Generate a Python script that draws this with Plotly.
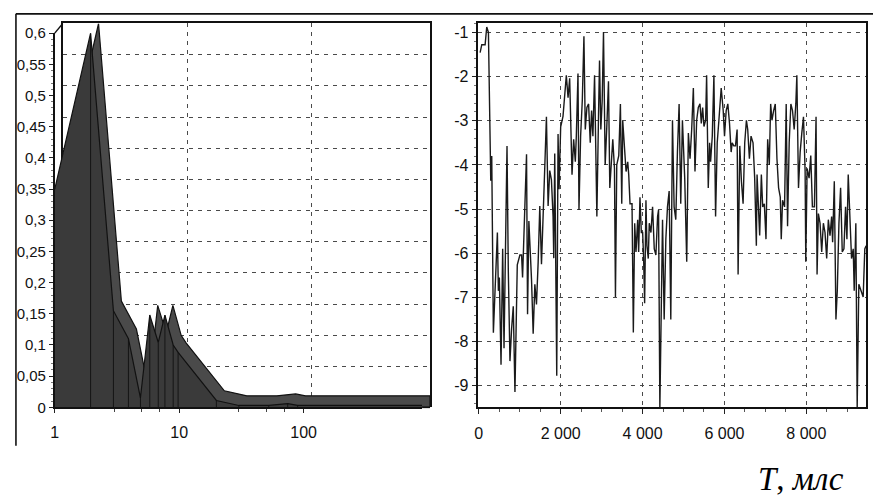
import plotly.graph_objects as go

# ---------------- data: left panel (spectrum, log x) ----------------
spec_x = [1.0, 1.94, 2.96, 3.91, 4.88, 5.8, 6.79, 7.68, 8.95, 9.8, 19.9, 30.2, 52.5, 74.5, 89.5, 895]
spec_y = [0.35, 0.60, 0.155, 0.11, 0.015, 0.148, 0.104, 0.148, 0.10, 0.088, 0.011, 0.003, 0.003, 0.006, 0.003, 0.003]

left_y_ticks = [0, 0.05, 0.1, 0.15, 0.2, 0.25, 0.3, 0.35, 0.4, 0.45, 0.5, 0.55, 0.6]
left_y_labels = ["0", "0,05", "0,1", "0,15", "0,2", "0,25", "0,3", "0,35", "0,4", "0,45", "0,5", "0,55", "0,6"]
left_x_ticks = [1, 10, 100]
left_x_labels = ["1", "10", "100"]
left_x_minor = [3, 5, 7, 30, 50, 70]

# ---------------- data: right panel (time series) ----------------
ts_t = [32, 73, 154, 194, 235, 275, 292, 316, 356, 397, 454, 478, 502, 543, 583, 616, 656, 689, 721, 761,
        802, 842, 883, 940, 1004, 1045, 1069, 1166, 1191, 1223, 1288, 1328, 1369, 1409, 1450, 1490, 1531,
        1571, 1612, 1652, 1693, 1733, 1774, 1814, 1831, 1855, 1879, 1904, 1936, 1960, 2000, 2057, 2138,
        2180, 2220, 2236, 2277, 2317, 2358, 2382, 2423, 2447, 2487, 2528, 2568, 2601, 2641, 2682, 2722,
        2755, 2787, 2828, 2884, 2925, 2949, 2981, 3014, 3046, 3087, 3127, 3168, 3200, 3233, 3273, 3314,
        3338, 3370, 3419, 3459, 3492, 3516, 3557, 3597, 3638, 3662, 3694, 3743, 3775, 3808, 3840, 3881,
        3905, 3937, 3970, 4002, 4026, 4051, 4083, 4107, 4140, 4164, 4205, 4245, 4286, 4326, 4367, 4391,
        4423, 4488, 4528, 4569, 4609, 4650, 4690, 4731, 4771, 4812, 4852, 4893, 4933, 4974, 5030, 5079,
        5119, 5160, 5200, 5241, 5281, 5322, 5362, 5403, 5435, 5468, 5500, 5541, 5565, 5605, 5638, 5662,
        5703, 5743, 5784, 5824, 5865, 5921, 5970, 6002, 6043, 6083, 6124, 6164, 6189, 6229, 6270, 6310,
        6334, 6375, 6415, 6456, 6496, 6537, 6569, 6610, 6650, 6699, 6739, 6780, 6797, 6837, 6861, 6902,
        6934, 6975, 7015, 7056, 7096, 7129, 7161, 7202, 7242, 7283, 7323, 7364, 7388, 7420, 7469, 7509,
        7542, 7582, 7623, 7663, 7704, 7744, 7769, 7809, 7850, 7890, 7931, 7971, 7987, 8020, 8068, 8109,
        8149, 8198, 8238, 8263, 8295, 8336, 8376, 8417, 8457, 8498, 8538, 8579, 8619, 8643, 8684, 8724,
        8757, 8797, 8838, 8878, 8919, 8959, 8992, 9024, 9065, 9105, 9146, 9170, 9210, 9243, 9283, 9332,
        9389, 9429, 9461]
ts_v = [-1.46, -1.28, -1.28, -0.88, -1.0, -3.64, -4.36, -3.8, -7.8, -6.85, -5.53, -6.85, -6.55, -8.52, -5.9,
        -8.15, -5.82, -3.57, -6.41, -8.44, -7.7, -7.2, -9.14, -6.26, -6.04, -6.04, -6.55, -3.76, -7.38,
        -5.27, -6.6, -7.82, -6.7, -7.16, -6.2, -4.93, -6.25, -4.86, -4.04, -2.91, -4.93, -4.13, -4.34,
        -5.17, -6.11, -3.74, -6.2, -8.77, -3.3, -4.55, -3.14, -2.9, -1.97,
        -2.48, -2.04, -2.91, -4.22, -3.42, -3.93, -3.35, -1.93, -5.02, -3.35, -2.55, -1.09, -3.2, -2.7,
        -2.62, -3.5, -2.77, -3.35, -1.97, -5.17, -2.84, -1.64, -3.2, -2.55, -0.99, -4.0, -3.13, -2.11,
        -4.52, -3.86, -3.42, -4.08, -6.99, -4.0, -3.79, -2.62, -4.88, -3.0, -3.5, -4.15, -3.93, -4.22,
        -4.88, -4.88, -7.79, -5.32, -5.97, -5.24, -5.97, -4.73, -5.53, -5.53, -6.12, -7.13, -4.8, -5.83,
        -6.12, -5.32, -5.53, -4.95, -5.9, -6.04, -5.17, -5.02, -9.5, -5.24,
        -7.5, -5.68, -4.95, -4.59, -7.5, -2.99, -4.95, -5.24, -3.71, -2.62, -4.88, -2.99, -4.3, -6.19,
        -3.28, -3.86, -3.2, -2.26, -4.15, -2.99, -2.7, -2.62, -3.06, -2.7, -3.13, -2.99, -1.97, -4.52,
        -3.5, -3.93, -3.35, -1.97, -5.17, -3.5, -2.99, -2.26, -2.77, -3.35, -2.77, -2.62, -3.06, -3.71,
        -3.5, -3.57, -3.57, -3.2, -6.48, -3.57, -4.37, -4.88, -3.5, -2.99, -3.2, -3.86, -3.35, -3.5,
        -4.3, -5.83,
        -4.22, -4.95, -5.6, -4.22, -4.95, -4.88, -5.68, -3.42, -4.0, -2.62, -2.99, -2.77, -2.62, -3.86,
        -4.52, -4.73, -5.68, -4.8, -4.95, -2.62, -5.39, -3.5, -2.62, -2.77, -3.2, -2.62, -1.97, -4.52,
        -3.71, -3.28, -2.91, -4.15, -6.19, -4.08, -4.3, -3.79, -4.95, -4.95, -2.91, -6.48, -5.1, -5.32,
        -5.97, -5.32, -5.53, -6.12, -5.24, -5.6, -5.17, -5.75, -4.37, -7.5, -6.85, -5.32, -4.52, -5.97,
        -5.9, -4.95, -5.68, -4.22, -5.32, -6.12, -5.9, -6.85, -5.32, -9.5, -6.7, -6.85, -6.99, -5.9,
        -5.83]

right_x_ticks = [0, 2000, 4000, 6000, 8000]
right_x_labels = ["0", "2 000", "4 000", "6 000", "8 000"]
right_y_ticks = [-1, -2, -3, -4, -5, -6, -7, -8, -9]
right_y_labels = ["-1", "-2", "-3", "-4", "-5", "-6", "-7", "-8", "-9"]

axis_title = "<i>T</i>, <i>млс</i>"

# ---------------- layout geometry (pixels of the 873x502 page) ----------------
W, H = 873, 502
def px(x):
    return x / W
def py(y):
    return 1 - y / H

FRONT_L, FRONT_R, FRONT_T, FRONT_B = 51, 420, 25, 412.3
DX, DY = 8, 10  # depth of the 3-D box
BACK_L, BACK_R, BACK_T = FRONT_L + DX, FRONT_R + DX, FRONT_T - DY
R_L, R_R, R_T, R_B = 476, 866, 15, 412

Y_TOP = 0.6
PX_PER_UNIT = (FRONT_B - FRONT_T) / Y_TOP
BACK_YMIN = -DY / PX_PER_UNIT          # back wall axis reaches down to the front floor

TICKFONT = dict(family="Liberation Sans Narrow, Liberation Sans, Arial", size=16, color="#111")
GRID = dict(gridcolor="#4a4a4a", gridwidth=1.1, griddash="4px,5px")

fig = go.Figure()

# back wall of the 3-D area (same values, drawn on the shifted back axes), closed down to the floor
back_x = spec_x + [spec_x[-1], spec_x[0]]
back_y = spec_y + [BACK_YMIN, BACK_YMIN]
fig.add_trace(go.Scatter(x=back_x, y=back_y, xaxis="x", yaxis="y", mode="lines",
                         fill="toself", fillcolor="#4a4a4a",
                         line=dict(color="#111", width=1.2), hoverinfo="skip", showlegend=False))
# front face
fig.add_trace(go.Scatter(x=spec_x, y=spec_y, xaxis="x2", yaxis="y2", mode="lines",
                         fill="tozeroy", fillcolor="#3a3a3a",
                         line=dict(color="#111", width=1.2), showlegend=False))
# drop lines of the front face segments
drop_x, drop_y = [], []
for xv, yv in zip(spec_x[1:-1], spec_y[1:-1]):
    drop_x += [xv, xv, None]
    drop_y += [0, yv, None]
fig.add_trace(go.Scatter(x=drop_x, y=drop_y, xaxis="x2", yaxis="y2", mode="lines",
                         line=dict(color="#111", width=0.9), hoverinfo="skip", showlegend=False))

# right panel series
fig.add_trace(go.Scatter(x=ts_t, y=ts_v, xaxis="x3", yaxis="y3", mode="lines",
                         line=dict(color="#1a1a1a", width=1.4), showlegend=False))

log_span = (FRONT_R - FRONT_L) / 125.0

fig.update_layout(
    width=W, height=H, autosize=False,
    margin=dict(l=0, r=0, t=0, b=0),
    paper_bgcolor="white", plot_bgcolor="rgba(0,0,0,0)",
    showlegend=False,
    # back wall axes (grid + box)
    xaxis=dict(type="log", domain=[px(BACK_L), px(BACK_R)], range=[0, log_span], side="top",
               tickvals=left_x_ticks[1:], showticklabels=False, ticks="",
               showgrid=True, **GRID, zeroline=False,
               showline=True, mirror=False, linecolor="#111", linewidth=1.6),
    yaxis=dict(domain=[py(FRONT_B), py(BACK_T)], range=[BACK_YMIN, Y_TOP], anchor="x",
               tickvals=left_y_ticks[1:-1], showticklabels=False, ticks="",
               showgrid=True, **GRID, zeroline=False,
               showline=True, mirror=True, linecolor="#111", linewidth=1.6),
    # front face axes (ticks + labels)
    xaxis2=dict(type="log", domain=[px(FRONT_L), px(FRONT_R)], range=[0, log_span], anchor="y2",
                tickvals=left_x_ticks, ticktext=left_x_labels, ticks="outside", ticklen=4,
                tickcolor="#222", tickfont=TICKFONT, ticklabelstandoff=6,
                minor=dict(tickmode="array", tickvals=left_x_minor, ticks="outside", ticklen=3,
                           tickcolor="#444", showgrid=False),
                showgrid=False, zeroline=False,
                showline=True, linecolor="#111", linewidth=1.8),
    yaxis2=dict(domain=[py(FRONT_B), py(FRONT_T)], range=[0, Y_TOP], anchor="x2",
                tickvals=left_y_ticks, ticktext=left_y_labels, ticks="outside", ticklen=4,
                tickcolor="#222", tickfont=dict(TICKFONT, size=15), ticklabelstandoff=0,
                minor=dict(dtick=0.01, ticks="outside", ticklen=2, tickcolor="#777", showgrid=False),
                showgrid=False, zeroline=False,
                showline=True, linecolor="#111", linewidth=1.8),
    # right panel
    xaxis3=dict(domain=[px(R_L), px(R_R)], range=[-24, 9459], anchor="y3",
                tickvals=right_x_ticks, ticktext=right_x_labels, ticks="outside", ticklen=5,
                tickcolor="#222", tickfont=TICKFONT, ticklabelstandoff=6,
                minor=dict(dtick=500, ticks="outside", ticklen=3, tickcolor="#555", showgrid=False),
                showgrid=True, **GRID, zeroline=False,
                showline=True, mirror=True, linecolor="#111", linewidth=2.4),
    yaxis3=dict(domain=[py(R_B), py(R_T)], range=[-9.48, -0.80], anchor="x3",
                tickvals=right_y_ticks, ticktext=right_y_labels, ticks="outside", ticklen=4,
                tickcolor="#222", tickfont=TICKFONT, ticklabelstandoff=0,
                minor=dict(dtick=0.2, ticks="outside", ticklen=2, tickcolor="#777", showgrid=False),
                showgrid=True, **GRID, zeroline=False,
                showline=True, mirror=True, linecolor="#111", linewidth=2.4),
    annotations=[dict(text=axis_title, xref="paper", yref="paper", x=px(801), y=py(486),
                      xanchor="center", yanchor="middle", showarrow=False,
                      font=dict(family="Liberation Serif, Times New Roman, serif", size=33, color="#000"))],
    shapes=[
        # scan frame lines
        dict(type="line", xref="paper", yref="paper", x0=px(12), x1=1, y0=py(5), y1=py(5),
             line=dict(color="#111", width=1.6)),
        dict(type="line", xref="paper", yref="paper", x0=px(12), x1=px(12), y0=py(5), y1=py(452),
             line=dict(color="#111", width=1.6)),
        # 3-D box connector (top-left)
        dict(type="line", xref="paper", yref="paper", x0=px(FRONT_L), x1=px(BACK_L),
             y0=py(FRONT_T), y1=py(BACK_T), line=dict(color="#111", width=1.4)),
        # floor edge to the right of the front face
        dict(type="line", xref="paper", yref="paper", x0=px(FRONT_R), x1=px(BACK_R),
             y0=py(FRONT_B), y1=py(FRONT_B), line=dict(color="#111", width=1.6)),
    ],
)

fig.write_html(
    "out.html",
    config={"displayModeBar": False},
    post_script="document.body.style.margin='0';document.body.style.overflow='hidden';",
)
